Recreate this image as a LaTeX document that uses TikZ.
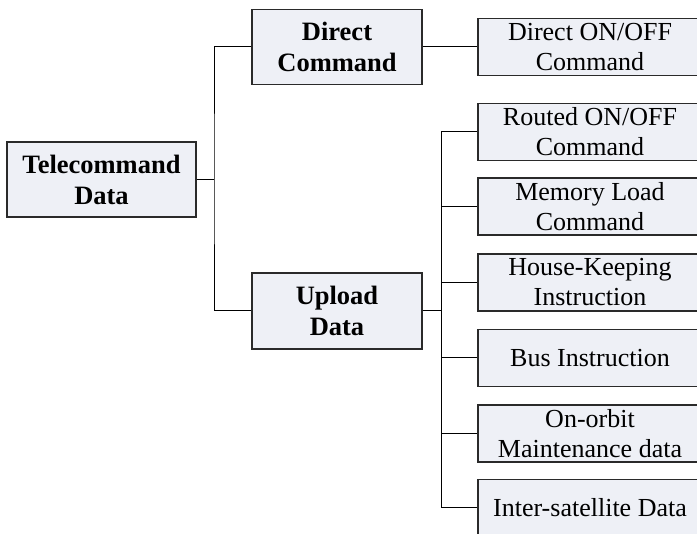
\documentclass[tikz,border=0pt]{standalone}
\usepackage{fontspec}
\setmainfont{Liberation Serif}
\definecolor{boxfill}{HTML}{EEF0F6}
\definecolor{boxline}{HTML}{2A2A2A}
\begin{document}
\begin{tikzpicture}[x=1pt,y=-1pt,
  box/.style={draw=boxline,line width=1.1pt,fill=boxfill,inner sep=0pt,align=center,
    font=\fontsize{26}{30}\selectfont},
  bbox/.style={box,font=\fontsize{26.5}{31}\selectfont\bfseries},
  leftbox/.style={bbox,minimum width=170pt,minimum height=75pt},
  rbox/.style={box,minimum width=224pt,minimum height=57pt},
  conn/.style={line width=1pt,draw=black}]
\useasboundingbox (0,0) rectangle (697,534);
\begin{scope}
\clip (0,0) rectangle (697,534);
\node[bbox,minimum width=189pt,minimum height=75pt] (tele) at (101.5,179.5) {Telecommand\\Data};
\node[leftbox] (direct) at (337,47) {Direct\\Command};
\node[leftbox,minimum height=76pt] (upload) at (337,311) {Upload\\Data};
\node[rbox] (don) at (590,47) {Direct ON/OFF\\Command};
\node[rbox] (routed) at (590,132) {Routed ON/OFF\\Command};
\node[rbox] (memory) at (590,206.5) {Memory Load\\Command};
\node[rbox] (house) at (590,282.5) {House-Keeping\\Instruction};
\node[rbox] (bus) at (590,358) {Bus Instruction};
\node[rbox] (orbit) at (590,433.5) {On-orbit\\Maintenance data};
\node[rbox] (inter) at (590,508) {Inter-satellite Data};
\coordinate (j1) at (214,179.5);
\coordinate (j2) at (441,311);
\draw[conn] (tele.east) -- (j1);
\draw[conn] (direct.west) -| (j1) |- (upload.west);
\draw[conn] (direct.east) -- (don.west);
\draw[conn] (upload.east) -- (j2);
\draw[conn] (j2) |- (routed.west);
\draw[conn] (j2) |- (memory.west);
\draw[conn] (j2) |- (house.west);
\draw[conn] (j2) |- (bus.west);
\draw[conn] (j2) |- (orbit.west);
\draw[conn] (j2) |- (inter.west);
\end{scope}
\end{tikzpicture}
\end{document}
